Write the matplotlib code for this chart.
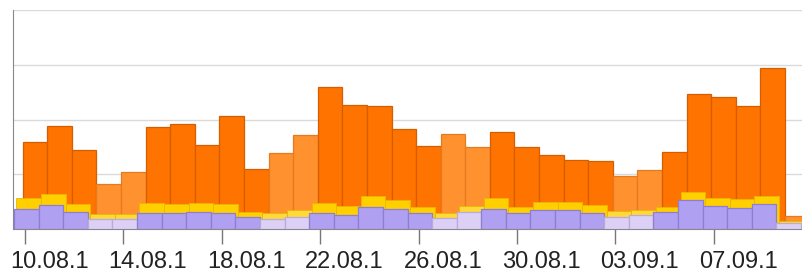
import matplotlib.pyplot as plt
import matplotlib.transforms as mtransforms
import numpy as np

# daily values 10.08 - 10.09
days = ["10.08", "11.08", "12.08", "13.08", "14.08", "15.08", "16.08", "17.08",
        "18.08", "19.08", "20.08", "21.08", "22.08", "23.08", "24.08", "25.08",
        "26.08", "27.08", "28.08", "29.08", "30.08", "31.08", "01.09", "02.09",
        "03.09", "04.09", "05.09", "06.09", "07.09", "08.09", "09.09", "10.09"]
weekend = [3, 4, 10, 11, 17, 18, 24, 25, 31]

orange = [159, 188, 144, 82, 104, 186, 192, 153, 206, 110, 139, 172, 259, 227, 225, 183,
          152, 174, 150, 177, 150, 135, 126, 124, 97, 108, 141, 247, 241, 225, 294, 24]
yellow = [57, 64, 46, 27, 27, 47, 46, 47, 46, 31, 29, 35, 47, 42, 60, 53,
          40, 29, 42, 57, 40, 49, 49, 44, 33, 35, 40, 68, 57, 55, 60, 15]
purple = [37, 44, 31, 18, 18, 29, 29, 31, 29, 22, 18, 22, 29, 26, 40, 37,
          29, 20, 31, 37, 29, 35, 35, 29, 22, 26, 31, 53, 42, 38, 46, 11]

tick_idx = [0, 4, 8, 12, 16, 20, 24, 28]
tick_labels = ["10.08.1", "14.08.1", "18.08.1", "22.08.1", "26.08.1", "30.08.1", "03.09.1", "07.09.1"]

x = np.arange(len(days))

def shade(normal, light):
    return [light if i in weekend else normal for i in range(len(days))]

fig = plt.figure(figsize=(8.03, 2.73), dpi=100)
ax = fig.add_axes([13/803, 1 - 229/273, 1 - 13/803, 219/273])

# back to front, each series shifted a bit to the right like a 3d chart
ax.bar(x + 0.4, orange, width=1.0, color=shade("#FF7300", "#FF912F"),
       edgecolor=shade("#D65E00", "#E57A1E"), linewidth=0.9, zorder=2)
ax.bar(x + 0.15, yellow, width=1.0, color=shade("#FFCF00", "#FFD83A"),
       edgecolor="#E6B800", linewidth=0.6, zorder=3)
ax.bar(x + 0.05, purple, width=1.0, color=shade("#B0A0F2", "#DCD0F7"),
       edgecolor=shade("#8E7ED2", "#B8ABDA"), linewidth=0.9, zorder=4)

ax.set_xlim(-0.49, 31.63)
ax.set_ylim(0, 400)
ax.set_yticks([100, 200, 300, 400])
ax.yaxis.grid(True, color="#DADADA", linewidth=1)
ax.set_axisbelow(True)
ax.tick_params(axis="y", left=False, labelleft=False)

ax.set_xticks(tick_idx)
ax.set_xticklabels(tick_labels, fontsize=17, family="Liberation Sans", ha="left", color="#222222")
ax.tick_params(axis="x", length=11, width=1, color="#777777", pad=5)
offset = mtransforms.ScaledTranslation(-15/100, 0, fig.dpi_scale_trans)
for lab in ax.get_xticklabels():
    lab.set_transform(lab.get_transform() + offset)

for s in ["top", "right"]:
    ax.spines[s].set_visible(False)
ax.spines["left"].set_color("#888888")
ax.spines["bottom"].set_color("#888888")

plt.savefig("out.png", dpi=100)
